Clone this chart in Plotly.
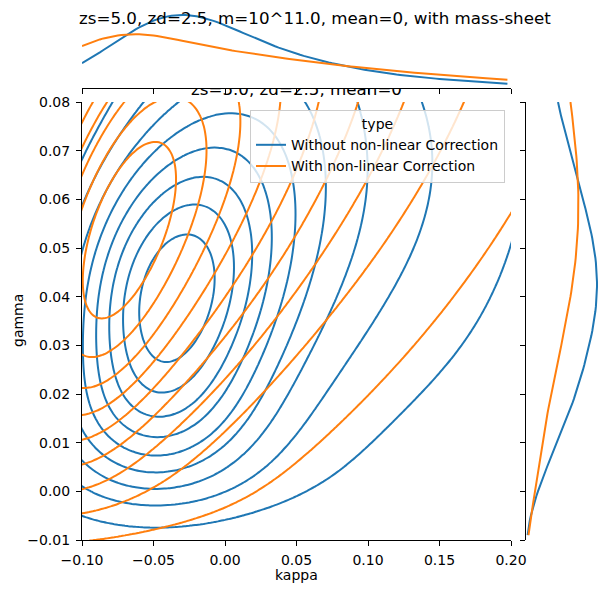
import numpy as np
import plotly.graph_objects as go

# ---------------- data ----------------
kappa_ticks = [-0.10, -0.05, 0.00, 0.05, 0.10, 0.15, 0.20]
gamma_ticks = [-0.01, 0.00, 0.01, 0.02, 0.03, 0.04, 0.05, 0.06, 0.07, 0.08]
series_names = ["Without non-linear Correction", "With non-linear Correction"]
series_colors = ["#1f77b4", "#ff7f0e"]

# smooth density model of each sample (weight, kappa centre, gamma centre,
# kappa spread, gamma spread, correlation) estimated from the contours
blue_w = [0.36, 0.20, 0.12, 0.07, 0.03, 0.03]
blue_mk = [-0.043, 0.000, 0.060, 0.140, -0.045, -0.060]
blue_mg = [0.038, 0.055, 0.070, 0.065, 0.095, 0.015]
blue_sk = [0.042, 0.045, 0.045, 0.055, 0.045, 0.050]
blue_sg = [0.020, 0.028, 0.035, 0.030, 0.035, 0.010]
blue_r = [0.15, 0.15, 0.10, 0.20, 0.20, 0.00]
blue_floor = [-0.006, 0.0035]

orange_w = [0.22, 0.30, 0.28, 0.16]
orange_mk = [-0.080, -0.040, 0.030, 0.130]
orange_mg = [0.050, 0.060, 0.080, 0.100]
orange_sk = [0.040, 0.065, 0.090, 0.110]
orange_sg = [0.025, 0.035, 0.042, 0.050]
orange_r = [0.55, 0.55, 0.55, 0.50]
orange_floor = [-0.008, 0.0035]

iso_props = np.linspace(0.05, 1.0, 10)  # seaborn default: levels=10, thresh=0.05

title_main = "zs=5.0, zd=2.5, m=10^11.0, mean=0, with mass-sheet"
title_sub = "zs=5.0, zd=2.5, mean=0"

# ---------------- density grid ----------------
K = np.linspace(-0.35, 0.60, 381)
G = np.linspace(-0.04, 0.28, 321)
dk = K[1] - K[0]
dg = G[1] - G[0]
KK, GG = np.meshgrid(K, G)


def density(w, mk, mg, sk, sg, r, floor):
    z = np.zeros_like(KK)
    for wi, a, b, sa, sb, ri in zip(w, mk, mg, sk, sg, r):
        dx = (KK - a) / sa
        dy = (GG - b) / sb
        q = (dx * dx - 2 * ri * dx * dy + dy * dy) / (1 - ri * ri)
        z += wi * np.exp(-0.5 * q) / (2 * np.pi * sa * sb * np.sqrt(1 - ri * ri))
    z *= 1.0 / (1.0 + np.exp(-(GG - floor[0]) / floor[1]))
    z /= z.sum() * dk * dg
    return z


def iso_levels(z, props):
    v = np.sort(z.ravel())[::-1]
    c = np.cumsum(v) / v.sum()
    idx = np.searchsorted(c, 1 - np.asarray(props))
    return np.take(v, idx, mode="clip")


Z = [
    density(blue_w, blue_mk, blue_mg, blue_sk, blue_sg, blue_r, blue_floor),
    density(orange_w, orange_mk, orange_mg, orange_sk, orange_sg, orange_r, orange_floor),
]

kv = (K >= -0.115) & (K <= 0.215)
gv = (G >= -0.015) & (G <= 0.085)
km = (K >= -0.1) & (K <= 0.2)
gm = (G >= -0.01) & (G <= 0.08)

fig = go.Figure()

tops = []
rights = []
for z, name, col in zip(Z, series_names, series_colors):
    levels = iso_levels(z, iso_props)[:-1]
    zs = z[np.ix_(gv, kv)]
    for L in levels:
        fig.add_trace(go.Contour(
            x=K[kv], y=G[gv], z=zs, autocontour=False,
            contours=dict(start=L, end=L, size=L, coloring="none"),
            line=dict(color=col, width=2, smoothing=1),
            showscale=False, showlegend=False, hoverinfo="skip",
            xaxis="x", yaxis="y"))
    tops.append(z.sum(axis=0) * dg)
    rights.append(z.sum(axis=1) * dk)

for top, right, name, col in zip(tops, rights, series_names, series_colors):
    fig.add_trace(go.Scatter(x=K[km], y=top[km], mode="lines",
                             line=dict(color=col, width=2), showlegend=False,
                             hoverinfo="skip", xaxis="x2", yaxis="y2"))
    fig.add_trace(go.Scatter(x=right[gm], y=G[gm], mode="lines",
                             line=dict(color=col, width=2), showlegend=False,
                             hoverinfo="skip", xaxis="x3", yaxis="y3"))
    fig.add_trace(go.Scatter(x=[None], y=[None], mode="lines", name=name,
                             line=dict(color=col, width=2), xaxis="x", yaxis="y"))

# partially hidden axes title
fig.add_trace(go.Scatter(x=[0.5], y=[0.78], mode="text", text=[title_sub],
                         textposition="middle center", cliponaxis=True,
                         textfont=dict(size=16.7, color="black", family="DejaVu Sans"),
                         showlegend=False, hoverinfo="skip", xaxis="x4", yaxis="y4"))

W, H = 610, 592
xd = [82 / W, 511 / W]
yd = [(H - 540) / H, (H - 102) / H]
top_max = max(tops[0][km].max(), 1e-9)
right_max = max(rights[0][gm].max(), 1e-9)


def fmt(v):
    return ("%.2f" % v).replace("-", "\u2212")


axis_common = dict(showgrid=False, zeroline=False, ticks="outside", ticklen=5,
                   tickwidth=1.1, tickcolor="black", showline=True,
                   linecolor="black", linewidth=1.1, mirror=False,
                   automargin=False)

fig.update_layout(
    width=W, height=H, autosize=False,
    margin=dict(l=0, r=0, t=0, b=0, pad=0),
    paper_bgcolor="white", plot_bgcolor="white",
    font=dict(family="DejaVu Sans", size=14, color="black"),
    xaxis=dict(domain=xd, range=[-0.1, 0.2], anchor="y",
               tickvals=kappa_ticks, ticktext=[fmt(v) for v in kappa_ticks],
               ticklabelstandoff=2, **axis_common),
    yaxis=dict(domain=yd, range=[-0.01, 0.08], anchor="x",
               tickvals=gamma_ticks, ticktext=[fmt(v) for v in gamma_ticks],
               ticklabelstandoff=3, **axis_common),
    xaxis2=dict(domain=xd, range=[-0.1, 0.2], anchor="y2",
                tickvals=kappa_ticks, showticklabels=False, **axis_common),
    yaxis2=dict(domain=[(H - 88) / H, 1.0], range=[0, top_max * 88 / 73],
                anchor="x2", visible=False, automargin=False),
    xaxis3=dict(domain=[526 / W, 1.0], range=[0, right_max * 84 / 71],
                anchor="y3", visible=False, automargin=False),
    yaxis3=dict(domain=yd, range=[-0.01, 0.08], anchor="x3",
                tickvals=gamma_ticks, showticklabels=False, **axis_common),
    xaxis4=dict(domain=xd, range=[0, 1], anchor="y4", visible=False, automargin=False),
    yaxis4=dict(domain=[(H - 102) / H, (H - 88) / H], range=[0, 1],
                anchor="x4", visible=False, automargin=False),
    legend=dict(x=250 / W, y=(H - 110) / H, xanchor="left", yanchor="top",
                bgcolor="rgba(255,255,255,0.8)", bordercolor="#cccccc",
                borderwidth=1, font=dict(size=14),
                title=dict(text="type", side="top center", font=dict(size=14)),
                itemwidth=30, tracegroupgap=0),
    annotations=[
        dict(text=title_main, x=315 / W, y=(H - 18) / H, xref="paper", yref="paper",
             xanchor="center", yanchor="middle", showarrow=False,
             font=dict(size=16.7)),
        dict(text="kappa", x=296.5 / W, y=(H - 575) / H, xref="paper", yref="paper",
             xanchor="center", yanchor="middle", showarrow=False, font=dict(size=14)),
        dict(text="gamma", x=18 / W, y=(H - 321) / H, xref="paper", yref="paper",
             xanchor="center", yanchor="middle", showarrow=False, textangle=-90,
             font=dict(size=14)),
    ],
)

fig.write_html("out.html")
